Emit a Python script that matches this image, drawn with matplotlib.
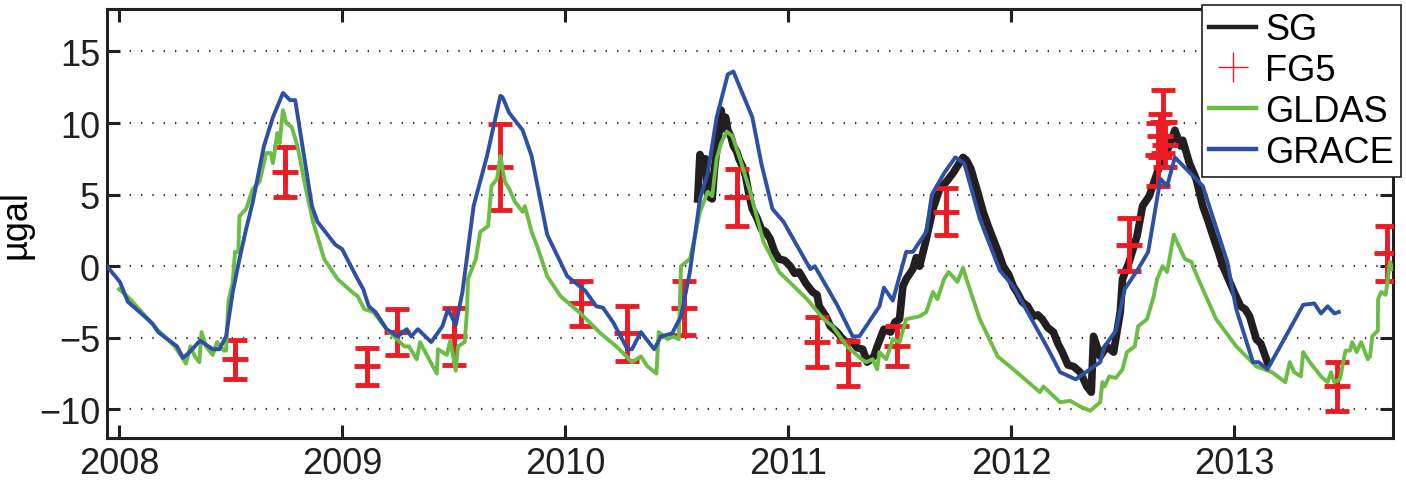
import matplotlib
matplotlib.use("Agg")
import matplotlib.pyplot as plt
from matplotlib.lines import Line2D

# --- data (decimal year, microgal) ---
grace_t = [2007.946, 2008.004, 2008.04, 2008.063, 2008.15, 2008.175, 2008.26, 2008.287, 2008.31,
           2008.363, 2008.42, 2008.45, 2008.48, 2008.51, 2008.54, 2008.57, 2008.60, 2008.65, 2008.69,
           2008.735, 2008.767, 2008.79, 2008.865, 2008.89, 2008.97, 2009.0, 2009.07, 2009.095,
           2009.12, 2009.15, 2009.20, 2009.25, 2009.29, 2009.31, 2009.34, 2009.40, 2009.45,
           2009.475, 2009.51, 2009.54, 2009.59, 2009.65, 2009.71, 2009.72, 2009.75, 2009.81,
           2009.85, 2009.92, 2010.01, 2010.09, 2010.14, 2010.17, 2010.215, 2010.28, 2010.30,
           2010.34, 2010.40, 2010.43, 2010.48, 2010.52, 2010.56, 2010.605, 2010.64, 2010.68,
           2010.73, 2010.755, 2010.84, 2010.88, 2010.93, 2010.98, 2011.10, 2011.12, 2011.22,
           2011.29, 2011.32, 2011.41, 2011.43, 2011.47, 2011.53, 2011.56, 2011.62, 2011.645,
           2011.70, 2011.75, 2011.79, 2011.86, 2011.95, 2012.01, 2012.16, 2012.22, 2012.29,
           2012.40, 2012.42, 2012.47, 2012.51, 2012.57, 2012.615, 2012.67, 2012.70, 2012.735,
           2012.86, 2012.97, 2013.01, 2013.085, 2013.11, 2013.15, 2013.31, 2013.36, 2013.39,
           2013.42, 2013.45, 2013.47]
grace_v = [0.0, -1.1, -2.5, -2.8, -4.0, -4.6, -5.6, -6.4, -6.1,
           -5.2, -5.8, -5.8, -4.9, -1.8, 0.5, 2.6, 4.5, 8.4, 10.4,
           12.1, 11.6, 11.6, 4.2, 3.1, 1.5, 1.2, -0.9, -1.6,
           -2.8, -3.2, -4.4, -4.9, -4.4, -4.9, -4.4, -5.3, -4.2,
           -3.0, -4.1, -1.8, 4.2, 7.7, 11.9, 11.8, 10.7, 9.5,
           7.7, 2.2, -0.7, -1.7, -2.8, -2.9, -3.9, -5.8, -5.8,
           -4.6, -5.8, -4.9, -4.7, -3.5, -0.4, 4.7, 6.5, 10.4,
           13.4, 13.6, 10.4, 7.2, 4.0, 3.1, -0.2, 0.0, -2.7,
           -4.9, -4.9, -2.8, -1.5, -2.4, 1.0, 1.0, 2.4, 5.0,
           6.5, 7.6, 7.2, 3.3, -0.3, -1.4, -5.6, -7.4, -7.9,
           -6.7, -5.6, -4.5, -1.6, -0.2, 1.0, 6.1, 5.6, 7.6,
           5.6, 0.3, -3.0, -6.7, -6.7, -7.2, -2.7, -2.6, -3.3,
           -2.8, -3.3, -3.2]

gldas_t = [2008.0, 2008.05, 2008.17, 2008.25, 2008.30, 2008.32, 2008.34, 2008.36, 2008.37, 2008.39,
           2008.42, 2008.44, 2008.47, 2008.48, 2008.49, 2008.51, 2008.52, 2008.535, 2008.54, 2008.57,
           2008.60, 2008.63, 2008.66, 2008.68, 2008.69, 2008.71, 2008.72, 2008.735, 2008.75, 2008.775,
           2008.80, 2008.835, 2008.87, 2008.92, 2008.98, 2009.045, 2009.07, 2009.10, 2009.14, 2009.20,
           2009.245, 2009.28, 2009.30, 2009.335, 2009.35, 2009.38, 2009.425, 2009.43, 2009.47, 2009.485,
           2009.51, 2009.52, 2009.55, 2009.56, 2009.565, 2009.60, 2009.62, 2009.655, 2009.67, 2009.695,
           2009.71, 2009.73, 2009.75, 2009.775, 2009.81, 2009.82, 2009.85, 2009.875, 2009.92, 2009.98,
           2010.07, 2010.16, 2010.23, 2010.30, 2010.34, 2010.37, 2010.41, 2010.42, 2010.46, 2010.485,
           2010.51, 2010.52, 2010.56, 2010.58, 2010.605, 2010.64, 2010.66, 2010.68, 2010.70, 2010.725,
           2010.75, 2010.785, 2010.83, 2010.89, 2010.96, 2011.085, 2011.16, 2011.20, 2011.265, 2011.33,
           2011.35, 2011.38, 2011.40, 2011.41, 2011.44, 2011.47, 2011.50, 2011.53, 2011.59, 2011.62,
           2011.65, 2011.67, 2011.70, 2011.72, 2011.76, 2011.785, 2011.80, 2011.86, 2011.94, 2012.01,
           2012.13, 2012.145, 2012.22, 2012.265, 2012.31, 2012.355, 2012.40, 2012.41, 2012.42, 2012.44,
           2012.47, 2012.50, 2012.52, 2012.555, 2012.57, 2012.61, 2012.64, 2012.655, 2012.68, 2012.70,
           2012.73, 2012.75, 2012.78, 2012.81, 2012.815, 2012.86, 2012.92, 2013.01, 2013.10, 2013.17,
           2013.23, 2013.25, 2013.27, 2013.30, 2013.31, 2013.34, 2013.39, 2013.42, 2013.435, 2013.45,
           2013.475, 2013.50, 2013.52, 2013.53, 2013.55, 2013.57, 2013.60, 2013.61, 2013.62, 2013.645,
           2013.646, 2013.66, 2013.68, 2013.70, 2013.71]
gldas_v = [-1.6, -2.3, -4.4, -5.6, -6.8, -5.6, -6.3, -6.7, -4.6, -5.6,
           -6.2, -5.3, -5.9, -5.9, -2.5, -1.1, 1.0, 1.0, 3.5, 4.0,
           5.4, 5.9, 7.9, 7.9, 7.2, 9.3, 8.6, 10.9, 10.0, 9.7,
           8.4, 5.6, 3.1, 0.5, -0.9, -1.8, -2.1, -3.0, -3.2, -4.4,
           -5.1, -5.6, -5.6, -6.5, -5.3, -6.2, -7.5, -5.8, -6.2, -5.2,
           -7.3, -5.6, -5.3, -3.2, -0.9, 0.5, 2.4, 2.8, 5.6, 6.1,
           7.7, 5.9, 5.4, 4.5, 3.8, 4.2, 2.4, 1.4, -0.7, -2.1,
           -3.3, -4.7, -5.6, -6.7, -6.3, -7.0, -7.5, -4.6, -5.1, -4.9,
           -5.1, 0.0, 0.5, 1.9, 3.8, 5.2, 4.9, 7.5, 8.6, 9.4,
           9.1, 7.5, 5.2, 1.7, -0.4, -2.3, -3.7, -4.2, -5.6, -6.5,
           -6.7, -6.5, -7.2, -6.0, -6.5, -5.1, -5.3, -3.7, -3.5, -3.2,
           -1.8, -2.3, -0.9, -0.4, -1.1, -0.1, -0.9, -3.7, -6.3, -7.2,
           -8.8, -8.4, -9.5, -9.4, -9.8, -10.1, -9.5, -8.1, -8.4, -7.7,
           -7.8, -7.2, -6.0, -5.6, -4.2, -3.7, -2.1, -0.9, 0.0, -0.4,
           2.2, 1.5, 0.5, 0.3, 0.0, -1.6, -3.7, -5.6, -7.0, -7.4,
           -8.1, -6.7, -7.4, -7.7, -6.0, -6.7, -7.7, -8.1, -7.4, -8.1,
           -7.9, -5.9, -5.9, -5.3, -6.0, -5.3, -6.5, -6.3, -4.9, -4.5,
           -2.3, -1.8, -2.0, 0.3, -0.2]

sg_t = [2010.595, 2010.605, 2010.62, 2010.63, 2010.64, 2010.66, 2010.67, 2010.69, 2010.70, 2010.71,
        2010.72, 2010.73, 2010.745, 2010.755, 2010.77, 2010.78, 2010.795, 2010.81, 2010.825, 2010.84,
        2010.86, 2010.88, 2010.90, 2010.92, 2010.94, 2010.96, 2010.985, 2011.01, 2011.03, 2011.05,
        2011.08, 2011.11, 2011.13, 2011.14, 2011.17, 2011.19, 2011.22, 2011.24, 2011.26, 2011.29,
        2011.31, 2011.335, 2011.355, 2011.37, 2011.385, 2011.40, 2011.43, 2011.46, 2011.48, 2011.50,
        2011.515, 2011.53, 2011.56, 2011.575, 2011.59, 2011.62, 2011.65, 2011.68, 2011.71, 2011.74,
        2011.76, 2011.785, 2011.80, 2011.82, 2011.85, 2011.875, 2011.90, 2011.92, 2011.945, 2011.965,
        2011.99, 2012.01, 2012.03, 2012.05, 2012.075, 2012.10, 2012.12, 2012.14, 2012.165, 2012.19,
        2012.21, 2012.23, 2012.255, 2012.28, 2012.31, 2012.34, 2012.36, 2012.37, 2012.40, 2012.43,
        2012.46, 2012.49, 2012.50, 2012.53, 2012.565, 2012.59, 2012.62, 2012.655, 2012.68, 2012.71,
        2012.735, 2012.76, 2012.77, 2012.80, 2012.83, 2012.86, 2012.885, 2012.91, 2012.93, 2012.95,
        2012.975, 2013.0, 2013.03, 2013.05, 2013.07, 2013.10, 2013.12, 2013.15]
sg_v = [4.7, 7.8, 6.9, 7.5, 4.9, 4.7, 6.8, 9.3, 10.9, 9.6,
        10.4, 9.5, 9.0, 8.4, 8.0, 7.5, 7.0, 6.3, 5.0, 4.0,
        3.4, 2.6, 2.4, 1.9, 1.0, 0.5, 0.4, 0.0, -0.5, -0.4,
        -1.2, -1.8, -2.0, -2.8, -3.5, -4.2, -4.6, -5.0, -5.3, -5.3,
        -5.7, -5.8, -6.7, -6.5, -6.3, -5.6, -4.4, -4.6, -3.9, -3.7,
        -1.4, -0.9, -0.2, 0.6, 0.0, 1.9, 4.0, 5.4, 5.9, 6.5,
        7.0, 7.6, 7.4, 6.8, 5.2, 3.8, 2.7, 1.9, 0.9, 0.0,
        -0.6, -1.4, -1.9, -2.5, -2.8, -3.5, -3.4, -3.7, -4.3, -4.6,
        -5.4, -6.0, -6.9, -7.0, -7.4, -8.4, -8.8, -4.9, -6.3, -5.6,
        -6.0, -3.2, -0.9, 0.3, 2.1, 4.2, 4.9, 6.5, 7.5, 8.4,
        9.5, 8.4, 8.8, 7.2, 6.1, 4.2, 3.1, 1.9, 1.0, 0.0,
        -0.9, -1.8, -2.8, -3.0, -3.5, -5.1, -5.4, -6.7]

fg5_t = [2008.52, 2008.745, 2009.11, 2009.245, 2009.50, 2009.71, 2010.07, 2010.28, 2010.535,
         2010.77, 2011.13, 2011.27, 2011.49, 2011.71, 2012.53, 2012.66, 2012.67, 2012.68,
         2012.69, 2013.46, 2013.685]
fg5_v = [-6.5, 6.6, -7.0, -4.6, -4.9, 6.9, -2.6, -4.7, -2.9,
         4.8, -5.3, -6.8, -5.6, 3.8, 1.5, 7.8, 9.1, 10.1,
         8.5, -8.4, 0.9]
fg5_err = [1.35, 1.75, 1.3, 1.6, 2.0, 3.0, 1.6, 1.9, 1.9,
           2.0, 1.75, 1.55, 1.4, 1.65, 1.85, 2.2, 1.5, 2.2,
           1.6, 1.7, 1.9]

year_ticks = [2008, 2009, 2010, 2011, 2012, 2013]
val_ticks = [-10, -5, 0, 5, 10, 15]

RED = "#ED1C24"
GREEN = "#6CBD45"
BLUE = "#2D50A3"
BLACK = "#231F20"

plt.rcParams["font.family"] = ["Liberation Sans", "DejaVu Sans"]

fig = plt.figure(figsize=(14.06, 4.81), dpi=100)
ax = fig.add_axes([107 / 1406, 1 - 439 / 481, (1393 - 107) / 1406, (439 - 9.5) / 481])

ax.plot(sg_t, sg_v, color=BLACK, lw=5.5, solid_joinstyle="round", zorder=2)
ax.errorbar(fg5_t, fg5_v, yerr=fg5_err, fmt="+", color=RED, ms=19, mew=3.5,
            elinewidth=3.5, capsize=8.3, capthick=3.5, zorder=3)
ax.plot(gldas_t, gldas_v, color=GREEN, lw=2.8, zorder=4)
ax.plot(grace_t, grace_v, color=BLUE, lw=2.8, zorder=5)

ax.set_xlim(2007.946, 2013.713)
ax.set_ylim(-12, 18)
ax.set_xticks(year_ticks)
ax.set_xticklabels([str(y) for y in year_ticks])
ax.set_yticks(val_ticks)

ax.yaxis.grid(True, color="#333333", linestyle=(0, (0.6, 4.5)), lw=1.6)
ax.xaxis.grid(False)
ax.set_axisbelow(True)

for s in ax.spines.values():
    s.set_linewidth(2.2)
    s.set_color(BLACK)
ax.tick_params(direction="in", length=9.5, width=2.2, top=True, right=True,
               labelsize=26, colors=BLACK)
ax.tick_params(axis="y", pad=5)
ax.tick_params(axis="x", pad=6)

ax.set_ylabel("µgal", fontsize=26, labelpad=4)

handles = [Line2D([], [], color=BLACK, lw=3.2),
           Line2D([], [], color=RED, marker="+", ms=21, mew=1, ls="none"),
           Line2D([], [], color=GREEN, lw=3.2),
           Line2D([], [], color=BLUE, lw=3.2)]
leg = fig.legend(handles, ["SG", "FG5", "GLDAS", "GRACE"], loc="upper right",
                 bbox_to_anchor=(1401 / 1406, 1 - 6 / 481), fontsize=26,
                 frameon=True, fancybox=False, framealpha=1, edgecolor=BLACK,
                 handlelength=1.3, handletextpad=0.25, labelspacing=0.16,
                 borderpad=0.2, borderaxespad=0)
leg.get_frame().set_linewidth(1.2)

fig.savefig("out.png", dpi=100)
